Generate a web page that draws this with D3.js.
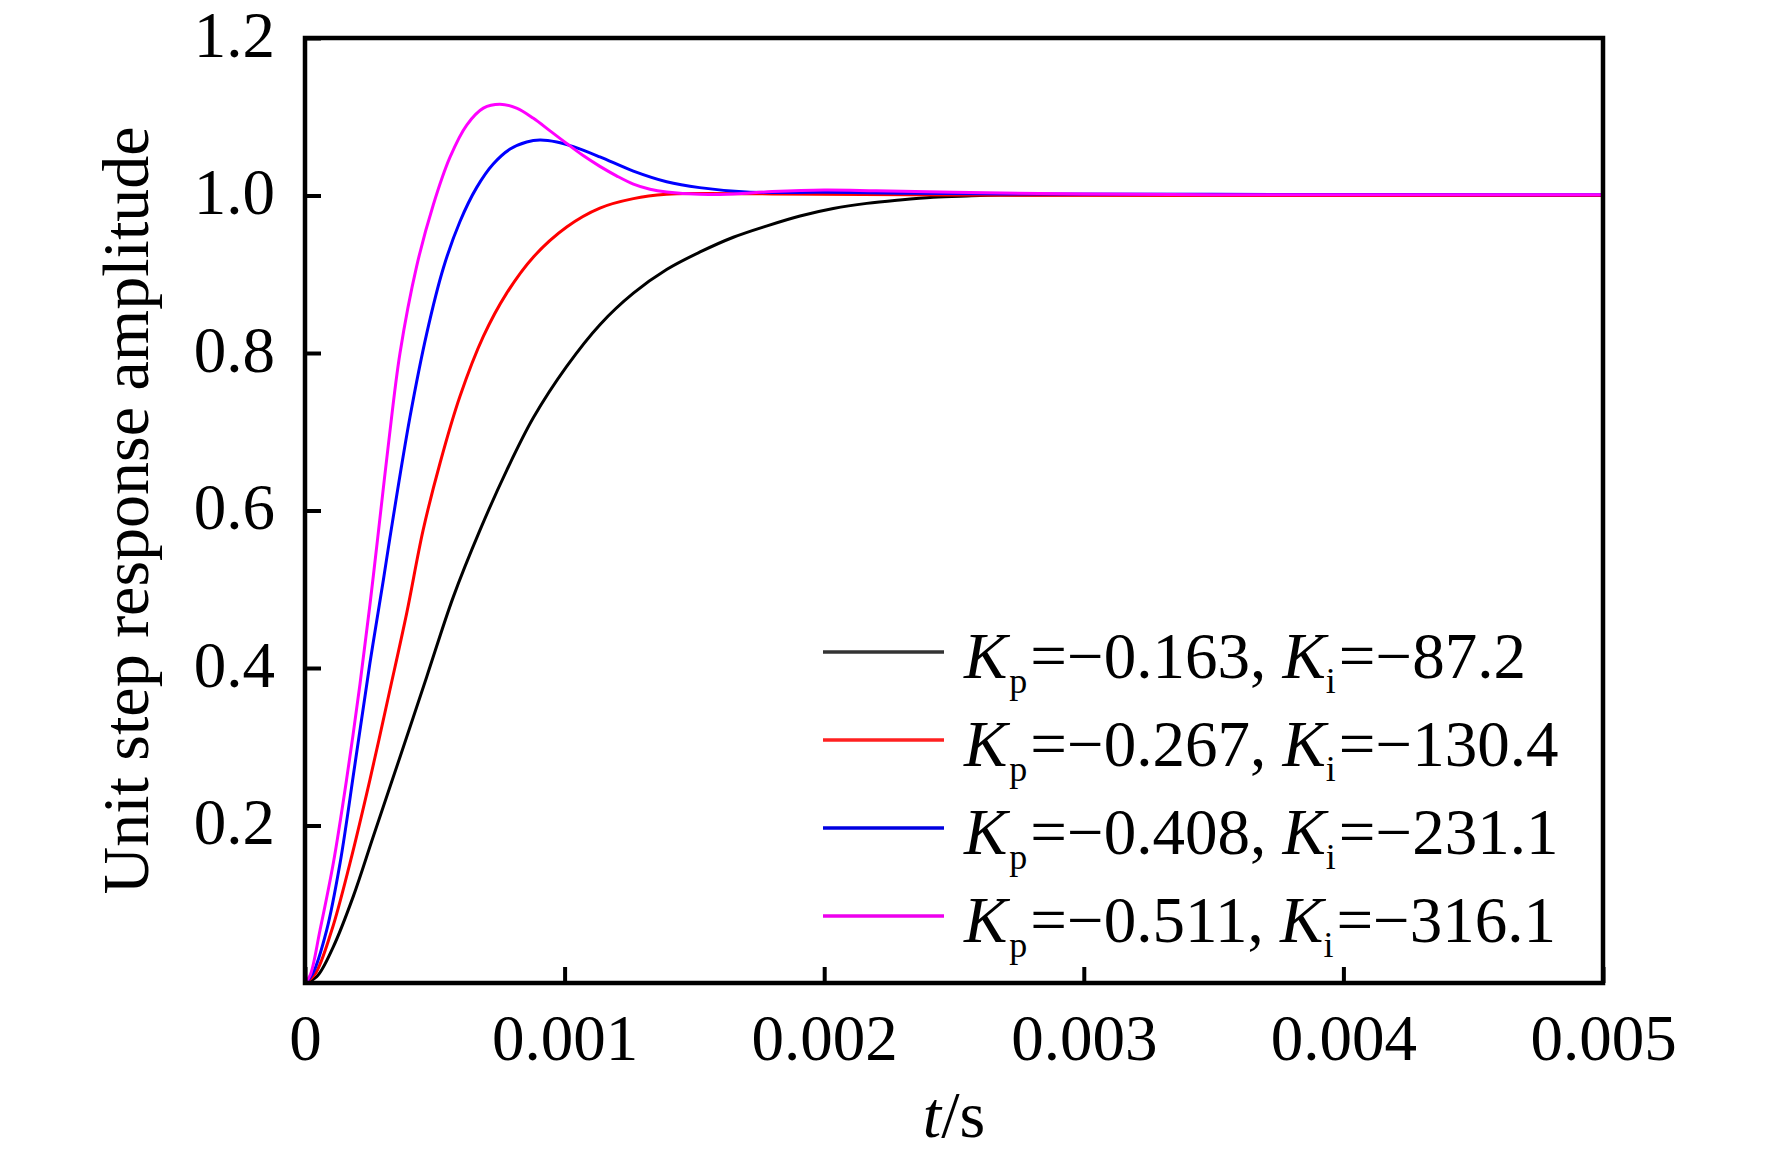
<!DOCTYPE html>
<html>
<head>
<meta charset="utf-8">
<script src="https://cdn.jsdelivr.net/npm/d3@7/dist/d3.min.js"></script>
<style>
  html, body { margin: 0; padding: 0; background: #fff; }
  svg { display: block; }
  text { font-family: "Liberation Serif", "Times New Roman", serif; fill: #000; }
</style>
</head>
<body>
<svg id="chart" width="1772" height="1157"></svg>
<script>
// ---- data ----
const xTicks = [0, 0.001, 0.002, 0.003, 0.004, 0.005];
const xTickLabels = ["0", "0.001", "0.002", "0.003", "0.004", "0.005"];
const yTicks = [0.2, 0.4, 0.6, 0.8, 1.0, 1.2];
const yTickLabels = ["0.2", "0.4", "0.6", "0.8", "1.0", "1.2"];

const seriesNames = ["black", "red", "blue", "magenta"];
const seriesColors = ["#000000", "#ff0000", "#0000ff", "#ff00ff"];
const legendLineColors = ["#333333", "#ff2020", "#0000e0", "#ee00ee"];
const kpValues = ["0.163", "0.267", "0.408", "0.511"];
const kiValues = ["87.2", "130.4", "231.1", "316.1"];

// [t (s), amplitude]
const blackData = [
  [0,0],[0.000045,0.008],[0.000109,0.046],[0.000186,0.110],[0.000263,0.186],
  [0.000366,0.287],[0.000469,0.389],[0.000571,0.490],[0.000674,0.575],[0.000777,0.651],
  [0.00088,0.718],[0.001008,0.783],[0.001136,0.836],[0.001265,0.876],[0.001393,0.906],
  [0.00152,0.928],[0.00165,0.947],[0.00178,0.9615],[0.001907,0.974],[0.002035,0.9835],
  [0.002164,0.990],[0.002292,0.9943],[0.00242,0.9977],[0.00255,0.9994],[0.00268,1.0006],
  [0.003,1.001],[0.004,1.0005],[0.005,1.0]
];
const redData = [
  [0,0],[0.00004,0.012],[0.000103,0.067],[0.000173,0.152],[0.00025,0.258],
  [0.000327,0.372],[0.000392,0.470],[0.000455,0.575],[0.00052,0.660],[0.000597,0.745],
  [0.000687,0.821],[0.000777,0.876],[0.00088,0.922],[0.001008,0.960],[0.001136,0.984],
  [0.001265,0.996],[0.001393,1.0015],[0.00152,1.0025],[0.0018,1.002],[0.0025,1.0005],
  [0.005,1.0]
];
const blueData = [
  [0,0],[0.00003,0.012],[0.0000835,0.067],[0.000135,0.152],[0.000193,0.279],
  [0.00025,0.406],[0.000302,0.512],[0.000327,0.565],[0.000404,0.718],[0.000469,0.825],
  [0.000533,0.908],[0.000597,0.967],[0.000661,1.010],[0.000725,1.040],[0.00079,1.059],
  [0.000854,1.068],[0.000905,1.0705],[0.00097,1.068],[0.001034,1.062],[0.001136,1.049],
  [0.001265,1.031],[0.001393,1.0175],[0.00152,1.010],[0.0017,1.0045],[0.002,1.004],
  [0.0023,1.003],[0.0027,1.002],[0.0035,1.0015],[0.005,1.001]
];
const magentaData = [
  [0,0],[0.00002,0.010],[0.0000578,0.067],[0.000109,0.152],[0.00016,0.258],
  [0.000212,0.380],[0.00025,0.480],[0.00028,0.565],[0.000321,0.683],[0.000366,0.800],
  [0.00043,0.910],[0.000494,0.988],[0.000559,1.049],[0.000623,1.0895],[0.000687,1.111],
  [0.000751,1.116],[0.000815,1.111],[0.00088,1.098],[0.000944,1.082],[0.001008,1.066],
  [0.00107,1.051],[0.001136,1.037],[0.0012,1.025],[0.001265,1.0145],[0.001329,1.008],
  [0.001393,1.0045],[0.00152,1.0015],[0.00165,1.002],[0.0018,1.005],[0.002,1.007],
  [0.0022,1.006],[0.0025,1.004],[0.003,1.002],[0.0035,1.001],[0.004,1.001],[0.005,1.001]
];
const seriesData = [blackData, redData, blueData, magentaData];

// ---- layout ----
const plot = { left: 305, right: 1603, top: 38, bottom: 983 };
const svg = d3.select("#chart");

const x = d3.scaleLinear().domain([0, 0.005]).range([plot.left, plot.right]);
const y = d3.scaleLinear().domain([0, 1.2]).range([plot.bottom, plot.top]);

svg.append("defs").append("clipPath").attr("id", "clip")
  .append("rect")
  .attr("x", plot.left).attr("y", plot.top)
  .attr("width", plot.right - plot.left).attr("height", plot.bottom - plot.top);

// curves
const line = d3.line()
  .x(d => x(d[0]))
  .y(d => y(d[1]))
  .curve(d3.curveCatmullRom.alpha(0.5));

svg.append("g").attr("clip-path", "url(#clip)")
  .selectAll("path")
  .data(seriesData)
  .join("path")
  .attr("d", line)
  .attr("fill", "none")
  .attr("stroke", (d, i) => seriesColors[i])
  .attr("stroke-width", 3)
  .attr("stroke-linejoin", "round");

// axes
const xAxis = d3.axisBottom(x)
  .tickValues(xTicks)
  .tickFormat((d, i) => xTickLabels[i])
  .tickSizeInner(-16).tickSizeOuter(0);
const gx = svg.append("g").attr("transform", `translate(0,${plot.bottom})`).call(xAxis);
gx.select(".domain").remove();
gx.selectAll(".tick line").attr("stroke", "#000").attr("stroke-width", 4);
gx.selectAll(".tick text")
  .attr("y", 77).attr("dy", 0)
  .attr("font-size", 65)
  .attr("font-family", "Liberation Serif, Times New Roman, serif")
  .attr("fill", "#000");

const yAxis = d3.axisLeft(y)
  .tickValues(yTicks)
  .tickFormat((d, i) => yTickLabels[i])
  .tickSizeInner(-16).tickSizeOuter(0);
const gy = svg.append("g").attr("transform", `translate(${plot.left},0)`).call(yAxis);
gy.select(".domain").remove();
gy.selectAll(".tick line").attr("stroke", "#000").attr("stroke-width", 4);
gy.selectAll(".tick text")
  .attr("x", -30).attr("y", 18).attr("dy", 0)
  .attr("font-size", 65)
  .attr("font-family", "Liberation Serif, Times New Roman, serif")
  .attr("fill", "#000");

// frame
svg.append("rect")
  .attr("x", plot.left).attr("y", plot.top)
  .attr("width", plot.right - plot.left).attr("height", plot.bottom - plot.top)
  .attr("fill", "none").attr("stroke", "#000").attr("stroke-width", 4.5);

// axis titles
const xt = svg.append("text")
  .attr("x", (plot.left + plot.right) / 2).attr("y", 1137)
  .attr("text-anchor", "middle").attr("font-size", 66);
xt.append("tspan").attr("font-style", "italic").text("t");
xt.append("tspan").text("/s");

svg.append("text")
  .attr("transform", `translate(148,${(plot.top + plot.bottom) / 2}) rotate(-90)`)
  .attr("text-anchor", "middle").attr("font-size", 66)
  .text("Unit step response amplitude");

// legend
const legendTop = 652, legendStep = 88;
const lg = svg.append("g");
seriesNames.forEach((name, i) => {
  const ly = legendTop + i * legendStep;
  lg.append("line")
    .attr("x1", 823).attr("x2", 944).attr("y1", ly).attr("y2", ly)
    .attr("stroke", legendLineColors[i]).attr("stroke-width", 3.5);
  const t = lg.append("text").attr("x", 964).attr("y", ly + 26).attr("font-size", 65);
  t.append("tspan").attr("font-style", "italic").text("K");
  t.append("tspan").attr("font-size", 36).attr("dy", 15).attr("dx", 2).text("p");
  t.append("tspan").attr("dy", -15).attr("dx", 3).text("=\u2212" + kpValues[i] + ", ");
  t.append("tspan").attr("font-style", "italic").text("K");
  t.append("tspan").attr("font-size", 36).attr("dy", 15).text("i");
  t.append("tspan").attr("dy", -15).attr("dx", 3).text("=\u2212" + kiValues[i]);
});
</script>
</body>
</html>
